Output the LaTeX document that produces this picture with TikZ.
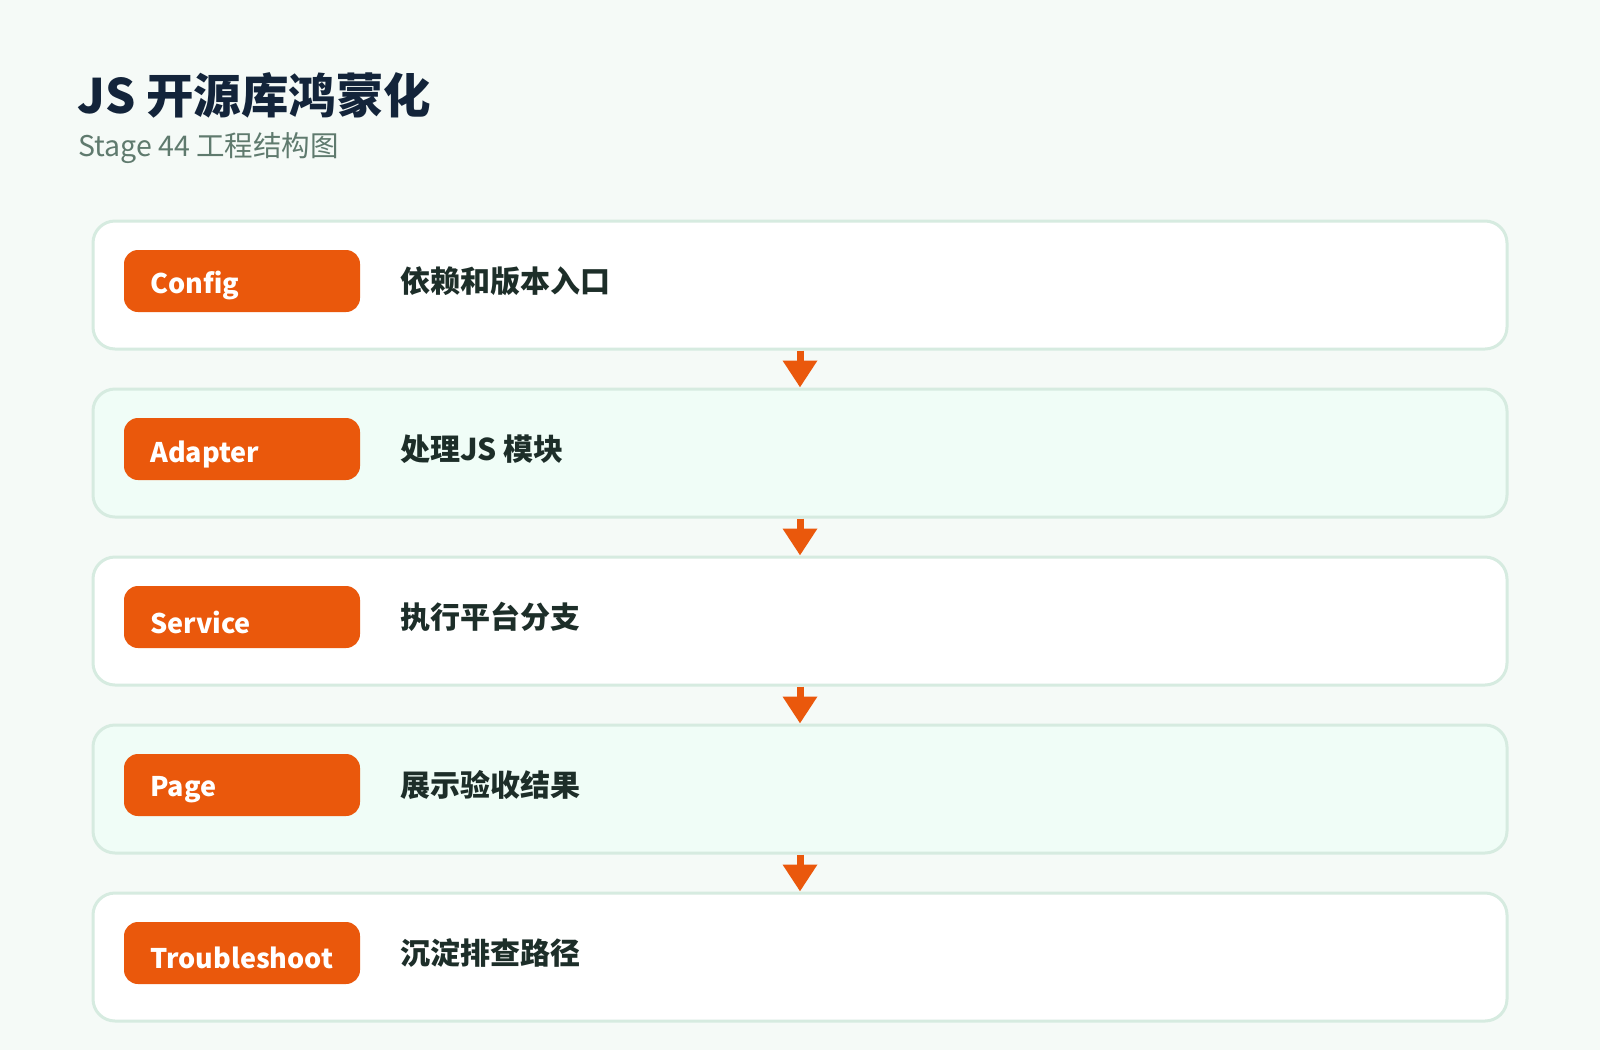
\documentclass[tikz,border=0pt]{standalone}
\usepackage{fontspec}
\setmainfont{Noto Sans CJK SC}
\usetikzlibrary{arrows.meta}
\definecolor{bgc}{HTML}{F5FAF7}
\definecolor{bordc}{HTML}{D6EBE0}
\definecolor{mint}{HTML}{F0FDF7}
\definecolor{orng}{HTML}{EA580C}
\definecolor{titlec}{HTML}{13243A}
\definecolor{subc}{HTML}{5F7A6E}
\definecolor{descc}{HTML}{1D2E29}
\tikzset{
  rowbox/.style={draw=bordc, line width=3pt, rounded corners=22pt, minimum width=1414pt, minimum height=128pt, inner sep=0pt},
  pill/.style={fill=orng, rounded corners=14pt, minimum width=236pt, minimum height=62pt, inner sep=0pt},
  pilltext/.style={anchor=west, text=white, font=\fontsize{27pt}{32pt}\selectfont\bfseries, inner sep=0pt},
  desc/.style={anchor=west, text=descc, font=\fontsize{30pt}{34pt}\selectfont\bfseries, inner sep=0pt},
  flowarrow/.style={draw=orng, line width=7pt, -{Triangle[width=33pt,length=27pt]}}
}
\begin{document}
\begin{tikzpicture}[x=1pt,y=-1pt]
\fill[bgc] (0,0) rectangle (1600,1050);
\useasboundingbox (0,0) rectangle (1600,1050);
\node[anchor=base west, inner sep=0pt, text=titlec, font=\fontsize{47.5pt}{56pt}\selectfont\bfseries] (title) at (77,113) {JS 开源库鸿蒙化};
\node[anchor=base west, inner sep=0pt, text=subc, font=\fontsize{28.5pt}{33pt}\selectfont] (subtitle) at (78,156) {Stage 44 工程结构图};
% rows
\node[rowbox, fill=white] (b1) at (800,285) {};
\node[rowbox, fill=mint]  (b2) at (800,453) {};
\node[rowbox, fill=white] (b3) at (800,621) {};
\node[rowbox, fill=mint]  (b4) at (800,789) {};
\node[rowbox, fill=white] (b5) at (800,957) {};
% pills
\node[pill] (p1) at (242,281) {};
\node[pill] (p2) at (242,449) {};
\node[pill] (p3) at (242,617) {};
\node[pill] (p4) at (242,785) {};
\node[pill] (p5) at (242,953) {};
\node[pilltext] (t1) at (150,286) {Config};
\node[pilltext] (t2) at (150,454) {Adapter};
\node[pilltext] (t3) at (150,622) {Service};
\node[pilltext] (t4) at (150,790) {Page};
\node[pilltext] (t5) at (150,958) {Troubleshoot};
\node[desc] (d1) at (400,281) {依赖和版本入口};
\node[desc] (d2) at (400,449) {处理JS 模块};
\node[desc] (d3) at (400,617) {执行平台分支};
\node[desc] (d4) at (400,785) {展示验收结果};
\node[desc] (d5) at (400,953) {沉淀排查路径};
% arrows
\draw[flowarrow] (b1.south) -- (b2.north);
\draw[flowarrow] (b2.south) -- (b3.north);
\draw[flowarrow] (b3.south) -- (b4.north);
\draw[flowarrow] (b4.south) -- (b5.north);
\end{tikzpicture}
\end{document}
